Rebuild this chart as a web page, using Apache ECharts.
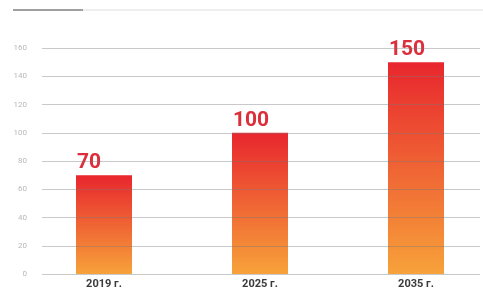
<!DOCTYPE html>
<html><head><meta charset="utf-8">
<script src="https://cdn.jsdelivr.net/npm/echarts@6/dist/echarts.min.js"></script>
<style>html,body{margin:0;padding:0;background:#fff}#c{width:483px;height:294px}</style>
</head><body><div id="c"></div>
<script>
const categories = ['2019 г.', '2025 г.', '2035 г.'];
const values = [70, 100, 150];
const yTicks = [0, 20, 40, 60, 80, 100, 120, 140, 160];

const chart = echarts.init(document.getElementById('c'));
chart.setOption({
  animation: false,
  grid: [
    {left: 42, right: 3, top: 48, bottom: 20, outerBoundsMode: 'none'},
    {left: 26, width: 468, top: 48, bottom: 20, outerBoundsMode: 'none'}
  ],
  graphic: [
    {type: 'line', shape: {x1: 83, y1: 10, x2: 483, y2: 10}, style: {stroke: '#eeeeee', lineWidth: 2}},
    {type: 'line', shape: {x1: 13, y1: 10, x2: 83, y2: 10}, style: {stroke: '#a0a0a0', lineWidth: 2}}
  ],
  xAxis: [
    {gridIndex: 0, type: 'value', min: 0, max: 1, show: false},
    {gridIndex: 1, type: 'category', data: categories,
     axisLine: {show: false}, axisTick: {show: false},
     axisLabel: {color: '#3a3a3a', fontWeight: 'bold', fontSize: 11, fontFamily: 'Roboto', margin: 5}}
  ],
  yAxis: [
    {gridIndex: 0, type: 'value', min: yTicks[0], max: yTicks[yTicks.length-1], interval: 20, z: 5,
     axisLine: {show: false}, axisTick: {show: false},
     axisLabel: {color: '#b8b8b8', fontSize: 8, fontFamily: 'Roboto', margin: 15},
     splitLine: {lineStyle: {color: 'rgba(120,120,120,0.4)', width: 1}}},
    {gridIndex: 1, type: 'value', min: yTicks[0], max: yTicks[yTicks.length-1], interval: 20, show: false}
  ],
  series: [{
    type: 'bar', xAxisIndex: 1, yAxisIndex: 1, data: values, barWidth: 56, z: 2,
    itemStyle: {color: new echarts.graphic.LinearGradient(0, 0, 0, 1, [
      {offset: 0, color: '#e8262e'}, {offset: 1, color: '#f7a23a'}])},
    label: {show: true, position: 'top', align: 'left', offset: [-27, 3],
      color: '#dc2f3b', fontWeight: 'bold', fontSize: 21, fontFamily: 'Roboto'}
  }]
});
</script></body></html>
